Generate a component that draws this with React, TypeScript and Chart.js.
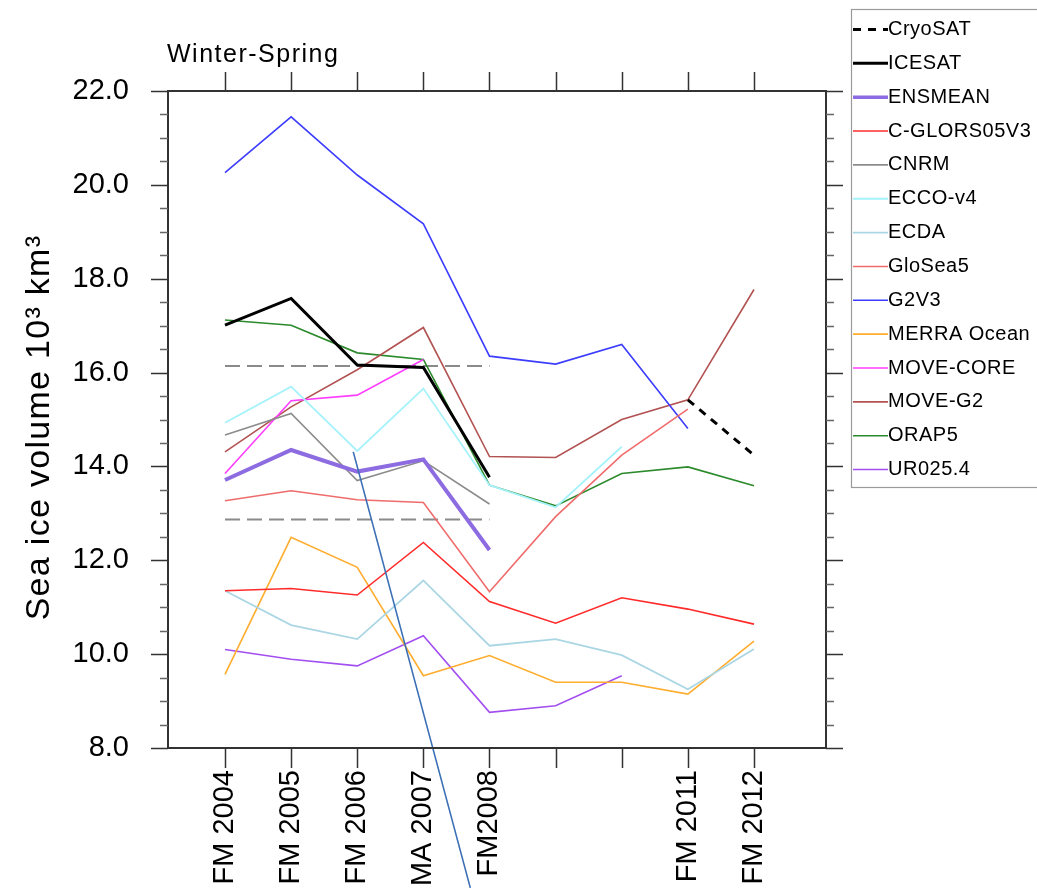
import { useEffect, useRef } from 'react';
import { Chart, registerables } from 'chart.js';

Chart.register(...registerables);

type Val = number | null;
const N = null;

// Season positions along the time axis and their tick labels
const xPositions = [0, 1, 2, 3, 4, 5, 6, 7, 8];
const xLabels = ['FM 2004', 'FM 2005', 'FM 2006', 'MA 2007', 'FM2008', '', '', 'FM 2011', 'FM 2012'];

// Value axis
const yMin = 8;
const yMax = 22;
const yMajorStep = 2;
const yMinorStep = 0.5;

// Sea ice volume (10^3 km^3) per season
const cryoSAT: Val[] = [N, N, N, N, N, N, N, 15.42, 14.24];
const iceSAT: Val[] = [17.01, 17.58, 16.16, 16.11, 13.77, N, N, N, N];
const ensMean: Val[] = [13.71, 14.35, 13.89, 14.15, 12.22, N, N, N, N];
const cGlors05V3: Val[] = [11.35, 11.4, 11.26, 12.38, 11.12, 10.66, 11.2, 10.96, 10.64];
const cnrm: Val[] = [14.67, 15.13, 13.7, 14.12, 13.2, N, N, N, N];
const eccoV4: Val[] = [14.93, 15.7, 14.33, 15.66, 13.6, 13.13, 14.42, N, N];
const ecda: Val[] = [11.35, 10.62, 10.32, 11.57, 10.18, 10.32, 9.98, 9.25, 10.11];
const gloSea5: Val[] = [13.27, 13.48, 13.29, 13.23, 11.33, 12.93, 14.24, 15.22, N];
const g2v3: Val[] = [20.26, 21.45, 20.21, 19.17, 16.35, 16.18, 16.6, 14.81, N];
const merraOcean: Val[] = [9.57, 12.49, 11.85, 9.54, 9.97, 9.4, 9.4, 9.15, 10.28];
const moveCore: Val[] = [13.85, 15.4, 15.52, 16.28, N, N, N, N, N];
const moveG2: Val[] = [14.31, 15.27, 16.06, 16.96, 14.21, 14.19, 15.0, 15.42, 17.77];
const orap5: Val[] = [17.12, 17.01, 16.42, 16.28, 13.6, 13.16, 13.85, 13.99, 13.59];
const ur025: Val[] = [10.1, 9.89, 9.75, 10.39, 8.76, 8.9, 9.54, N, N];

// ICESAT range over the ICESAT period (dashed guides)
const iceSatUpper = 16.14;
const iceSatLower = 12.87;
const iceSatSpan = [0, 4];

// Straight pointer line crossing the plot (data units)
const pointerX = [1.94, 3.71];
const pointerY = [14.31, 5.02];

const FONT = "'Liberation Sans', Arial, Helvetica, sans-serif";

type Style = { color: string; width: number; dash?: number[] };
const seriesStyles: Record<string, Style> = {
  CryoSAT: { color: '#000000', width: 3, dash: [8, 7] },
  ICESAT: { color: '#000000', width: 3 },
  ENSMEAN: { color: '#8d6be0', width: 4 },
  'C-GLORS05V3': { color: '#ff2b2b', width: 1.6 },
  CNRM: { color: '#8c8c8c', width: 1.6 },
  'ECCO-v4': { color: '#a6f2fb', width: 1.8 },
  ECDA: { color: '#abd6e4', width: 1.8 },
  GloSea5: { color: '#f06c6c', width: 1.6 },
  G2V3: { color: '#3d3dff', width: 1.6 },
  'MERRA Ocean': { color: '#ffad2e', width: 1.6 },
  'MOVE-CORE': { color: '#ff3dff', width: 1.6 },
  'MOVE-G2': { color: '#b25252', width: 1.6 },
  ORAP5: { color: '#2b8a2b', width: 1.6 },
  'UR025.4': { color: '#a24ef0', width: 1.6 },
};

const seriesValues: [string, Val[]][] = [
  ['CryoSAT', cryoSAT],
  ['ICESAT', iceSAT],
  ['ENSMEAN', ensMean],
  ['C-GLORS05V3', cGlors05V3],
  ['CNRM', cnrm],
  ['ECCO-v4', eccoV4],
  ['ECDA', ecda],
  ['GloSea5', gloSea5],
  ['G2V3', g2v3],
  ['MERRA Ocean', merraOcean],
  ['MOVE-CORE', moveCore],
  ['MOVE-G2', moveG2],
  ['ORAP5', orap5],
  ['UR025.4', ur025],
];

const toPoints = (vals: Val[]) => vals.map((v, i) => ({ x: xPositions[i], y: v }));

function buildDatasets() {
  const ds: any[] = [];
  ds.push({
    label: '__pointer',
    data: pointerX.map((x, i) => ({ x, y: pointerY[i] })),
    borderColor: '#3a6fb5',
    borderWidth: 1.6,
    pointRadius: 0,
    clip: false,
  });
  for (const [name, vals] of seriesValues) {
    const st = seriesStyles[name];
    ds.push({
      label: name,
      data: toPoints(vals),
      borderColor: st.color,
      borderWidth: st.width,
      borderDash: st.dash ?? [],
      pointRadius: 0,
      tension: 0,
      spanGaps: false,
    });
  }
  for (const level of [iceSatUpper, iceSatLower]) {
    ds.push({
      label: '__band',
      data: iceSatSpan.map((x) => ({ x, y: level })),
      borderColor: '#8a8a8a',
      borderWidth: 2,
      borderDash: [15, 7],
      pointRadius: 0,
    });
  }
  return ds;
}

const decorPlugin = {
  id: 'frameTitleLegend',
  afterDraw(chart: any) {
    const { ctx, chartArea: a, scales } = chart;
    const xs = scales.x;
    const ys = scales.y;
    ctx.save();

    // Frame
    ctx.strokeStyle = '#333333';
    ctx.lineWidth = 2;
    ctx.strokeRect(a.left, a.top, a.right - a.left, a.bottom - a.top);

    // Y tick marks (left and right, outward)
    ctx.lineWidth = 1.5;
    const nSteps = Math.round((yMax - yMin) / yMinorStep);
    for (let k = 0; k <= nSteps; k++) {
      const v = yMin + k * yMinorStep;
      const py = Math.round(ys.getPixelForValue(v)) + 0.5;
      const major = Math.abs(v / yMajorStep - Math.round(v / yMajorStep)) < 1e-9;
      const len = major ? 17 : 8;
      ctx.strokeStyle = major ? '#333333' : '#666666';
      ctx.beginPath();
      ctx.moveTo(a.left - len, py);
      ctx.lineTo(a.left, py);
      ctx.moveTo(a.right, py);
      ctx.lineTo(a.right + len, py);
      ctx.stroke();
    }

    // X tick marks (bottom and top, outward)
    ctx.strokeStyle = '#333333';
    for (const v of xPositions) {
      const px = Math.round(xs.getPixelForValue(v)) + 0.5;
      ctx.beginPath();
      ctx.moveTo(px, a.bottom);
      ctx.lineTo(px, a.bottom + 20);
      ctx.moveTo(px, a.top);
      ctx.lineTo(px, a.top - 19);
      ctx.stroke();
    }

    // Title
    ctx.fillStyle = '#000000';
    ctx.font = `25px ${FONT}`;
    ctx.textAlign = 'left';
    ctx.textBaseline = 'alphabetic';
    (ctx as any).letterSpacing = '1.5px';
    ctx.fillText('Winter-Spring', a.left - 1, 62);

    // Y axis title
    ctx.save();
    ctx.translate(49, (a.top + a.bottom) / 2 + 8);
    ctx.rotate(-Math.PI / 2);
    ctx.font = `34px ${FONT}`;
    ctx.textAlign = 'center';
    (ctx as any).letterSpacing = '1.3px';
    ctx.fillText('Sea ice volume 10\u00B3 km\u00B3', 0, 0);
    ctx.restore();

    // Legend box
    const boxLeft = a.right + 25;
    const boxTop = 9;
    const rowTop = 29.5;
    const rowStep = 33.85;
    const boxBottom = 487;
    ctx.strokeStyle = '#9a9a9a';
    ctx.lineWidth = 1.2;
    ctx.strokeRect(boxLeft + 0.5, boxTop + 0.5, chart.width - boxLeft + 10, boxBottom - boxTop);

    ctx.font = `20px ${FONT}`;
    ctx.textBaseline = 'middle';
    ctx.textAlign = 'left';
    (ctx as any).letterSpacing = '0.5px';
    seriesValues.forEach(([name], i) => {
      const st = seriesStyles[name];
      const ry = rowTop + i * rowStep;
      ctx.strokeStyle = st.color;
      ctx.lineWidth = Math.min(st.width, 3.5);
      ctx.setLineDash(st.dash ?? []);
      ctx.beginPath();
      ctx.moveTo(boxLeft + 2, ry);
      ctx.lineTo(boxLeft + 37, ry);
      ctx.stroke();
      ctx.setLineDash([]);
      ctx.fillStyle = '#000000';
      ctx.fillText(name, boxLeft + 37, ry);
    });
    (ctx as any).letterSpacing = '0px';
    ctx.restore();
  },
};

export default function App() {
  const canvasRef = useRef<HTMLCanvasElement | null>(null);

  useEffect(() => {
    const canvas = canvasRef.current;
    if (!canvas) return;
    const chart = new Chart(canvas, {
      type: 'line',
      data: { datasets: buildDatasets() },
      options: {
        animation: false,
        responsive: false,
        devicePixelRatio: 1,
        layout: { padding: { top: 91, right: 211, left: 0, bottom: 0 } },
        elements: { line: { tension: 0 } },
        plugins: {
          legend: { display: false },
          title: { display: false },
          tooltip: { enabled: false },
        },
        scales: {
          x: {
            type: 'linear',
            min: -0.862,
            max: 9.089,
            afterBuildTicks: (s: any) => {
              s.ticks = xPositions.map((v) => ({ value: v }));
            },
            afterFit: (s: any) => {
              s.height = 142;
            },
            grid: { display: false, drawTicks: false },
            border: { display: false },
            ticks: {
              autoSkip: false,
              minRotation: 90,
              maxRotation: 90,
              padding: 22,
              color: '#000000',
              font: { family: FONT, size: 29 },
              callback: (v: any) => xLabels[xPositions.indexOf(Number(v))] ?? '',
            },
          },
          y: {
            type: 'linear',
            min: yMin,
            max: yMax,
            afterFit: (s: any) => {
              s.width = 168;
            },
            grid: { display: false, drawTicks: false },
            border: { display: false },
            ticks: {
              stepSize: yMajorStep,
              padding: 39,
              color: '#000000',
              font: { family: FONT, size: 29 },
              callback: (v: any) => Number(v).toFixed(1),
            },
          },
        },
      },
      plugins: [decorPlugin],
    } as any);
    return () => chart.destroy();
  }, []);

  return (
    <div style={{ position: 'absolute', left: 0, top: 0, width: 1037, height: 890, background: '#ffffff' }}>
      <canvas ref={canvasRef} width={1037} height={890} style={{ display: 'block' }} />
    </div>
  );
}
